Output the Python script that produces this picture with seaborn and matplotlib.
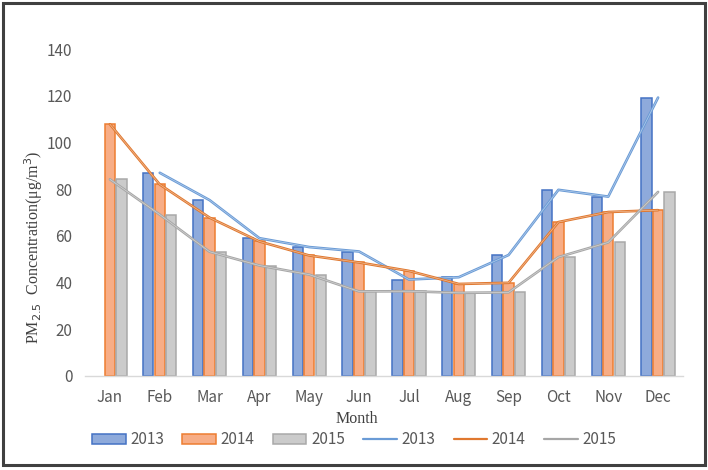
import numpy as np
import pandas as pd
import matplotlib
matplotlib.use("Agg")
import matplotlib.pyplot as plt
import seaborn as sns
from matplotlib.patches import Patch, Rectangle
from matplotlib.lines import Line2D

months = ["Jan", "Feb", "Mar", "Apr", "May", "Jun", "Jul", "Aug", "Sep", "Oct", "Nov", "Dec"]
years = ["2013", "2014", "2015"]
pm_2013 = [np.nan, 87, 75.3, 59, 55.2, 53.3, 41.3, 42.3, 51.8, 79.7, 76.8, 119.2]
pm_2014 = [107.8, 82, 67.8, 57.6, 51.6, 48.6, 45, 39.4, 39.9, 65.9, 70.2, 71]
pm_2015 = [84.2, 69.1, 53.2, 47.3, 43.4, 36.2, 36.3, 35.6, 35.8, 50.9, 57.2, 78.8]

fill_colors = {"2013": "#8eaadb", "2014": "#f7ad86", "2015": "#cbcbcb"}
edge_colors = {"2013": "#4472c4", "2014": "#ed7d31", "2015": "#a9a9a9"}
line_colors = {"2013": "#6a9bd6", "2014": "#e0782f", "2015": "#a6a6a6"}

series = {"2013": pm_2013, "2014": pm_2014, "2015": pm_2015}
rows = []
for y in years:
    for i, m in enumerate(months):
        rows.append({"Month": m, "pos": i, "Year": y, "PM": series[y][i]})
df = pd.DataFrame(rows)

sns.set_style("white")
plt.rcParams["font.family"] = ["Noto Sans CJK SC", "DejaVu Sans"]

fig = plt.figure(figsize=(7.08, 4.70), dpi=100)
ax = fig.add_axes([85 / 708, 1 - 376 / 470, 598 / 708, 327 / 470])

sns.barplot(data=df, x="Month", y="PM", hue="Year", order=months, hue_order=years,
            palette=fill_colors, width=0.69, gap=0.1, ax=ax, legend=False,
            linewidth=1.1, saturation=1)

for container, y in zip(ax.containers, years):
    for bar in container:
        bar.set_edgecolor(edge_colors[y])
        bar.set_linewidth(1.1)

dfl = df.dropna()
for y in years:
    sub = dfl[dfl["Year"] == y]
    sns.lineplot(data=sub, x="pos", y="PM", color=line_colors[y], linewidth=1.9,
                 estimator=None, ax=ax, legend=False)
    sns.lineplot(data=sub, x="pos", y="PM", color="white", linewidth=0.5, alpha=0.5,
                 estimator=None, ax=ax, legend=False)

ax.set_xlim(-0.5, 11.5)
ax.set_ylim(0, 140)
ax.set_yticks(range(0, 141, 20))
for s in ["top", "right", "left"]:
    ax.spines[s].set_visible(False)
ax.spines["bottom"].set_color("#d9d9d9")
ax.spines["bottom"].set_linewidth(1.0)
ax.tick_params(axis="both", length=0, labelsize=11, labelcolor="#595959")
ax.tick_params(axis="y", pad=9)
ax.tick_params(axis="x", pad=9)
for lab in ax.get_xticklabels() + ax.get_yticklabels():
    lab.set_fontweight("light")
ax.grid(False)
ax.set_xlabel("")
ax.set_ylabel("")

fig.text(357 / 708, 1 - 419 / 470, "Month", family=["Liberation Serif"], fontsize=11.5,
         color="#404040", ha="center", va="center")
fig.text(34 / 708, 1 - 247 / 470, r"PM$_{2.5}$  Concentration(μg/m$^3$)",
         family=["Liberation Serif"], fontsize=11.5, color="#404040",
         ha="center", va="center", rotation=90)

handles = [Patch(facecolor=fill_colors[y], edgecolor=edge_colors[y], linewidth=1.1) for y in years]
handles += [Line2D([0], [0], color=line_colors[y], linewidth=1.6) for y in years]
labels = years + years
leg = fig.legend(handles, labels, loc="center", bbox_to_anchor=(0.5, 0.064), ncol=6,
                 frameon=False, fontsize=11, handlelength=2.2, handleheight=0.55,
                 handletextpad=0.3, columnspacing=1.2, labelcolor="#595959")

fig.patches.append(Rectangle((3 / 708, 5 / 470), 702 / 708, 462 / 470,
                             transform=fig.transFigure, fill=False,
                             edgecolor="#404040", linewidth=2.2, zorder=10))

fig.savefig("out.png", dpi=100)
